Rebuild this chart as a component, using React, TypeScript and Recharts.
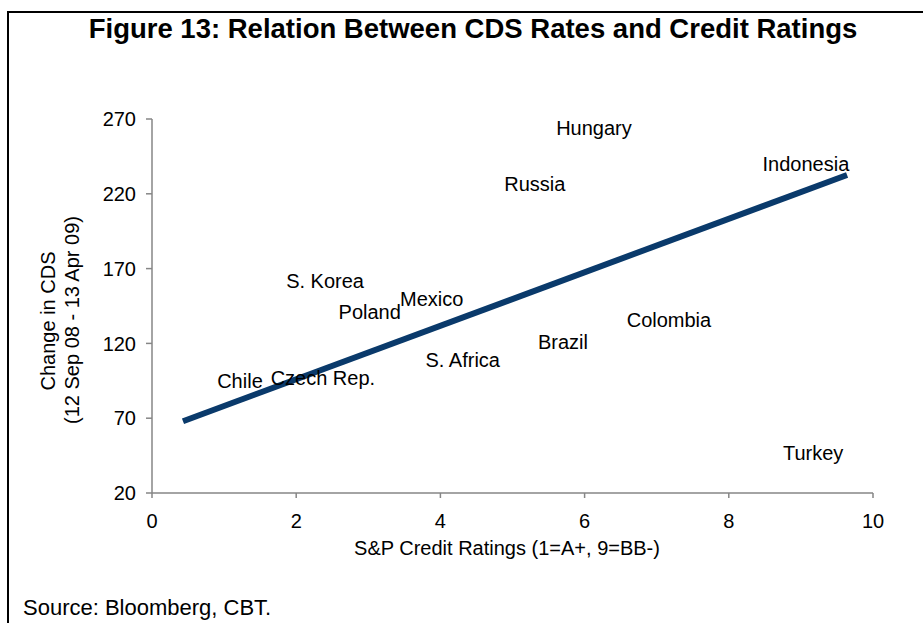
import { Scatter, ScatterChart, XAxis, YAxis } from "recharts"

const countries = [
  "Hungary",
  "Indonesia",
  "Russia",
  "S. Korea",
  "Mexico",
  "Poland",
  "Colombia",
  "Brazil",
  "S. Africa",
  "Chile",
  "Czech Rep.",
  "Turkey",
]
const ratings = [6.13, 9.07, 5.31, 2.4, 3.88, 3.02, 7.17, 5.7, 4.31, 1.22, 2.37, 9.17]
const cdsChange = [264, 240, 227, 162, 150, 141, 136, 121, 109, 95, 97, 47]

const trendX = [0.43, 9.64]
const trendY = [68, 232.6]

const xTicks = [0, 2, 4, 6, 8, 10]
const yTicks = [20, 70, 120, 170, 220, 270]

const points = countries.map((name, i) => ({ name, x: ratings[i], y: cdsChange[i] }))
const trend = trendX.map((x, i) => ({ x, y: trendY[i] }))

const FONT = "'Liberation Sans', Arial, sans-serif"

function CountryLabel(props: any) {
  const { cx, cy, payload } = props
  return (
    <text x={cx} y={cy} dy="0.36em" textAnchor="middle" fontSize={20} fill="#000">
      {payload.name}
    </text>
  )
}

export default function App() {
  return (
    <div
      style={{
        position: "absolute",
        left: 0,
        top: 0,
        width: 923,
        height: 623,
        background: "#fff",
        fontFamily: FONT,
      }}
    >
      <ScatterChart
        width={923}
        height={623}
        margin={{ top: 119, right: 50, bottom: 70, left: 0 }}
      >
        <XAxis
          type="number"
          dataKey="x"
          domain={[0, 10]}
          ticks={xTicks}
          interval={0}
          stroke="#868686"
          strokeWidth={1.5}
          tickSize={5}
          tickMargin={16}
          height={60}
          tick={{ fill: "#000", fontSize: 20 }}
        />
        <YAxis
          type="number"
          dataKey="y"
          domain={[20, 270]}
          ticks={yTicks}
          interval={0}
          stroke="#868686"
          strokeWidth={1.5}
          tickSize={6}
          tickMargin={10}
          width={152}
          tick={{ fill: "#000", fontSize: 20 }}
        />
        <Scatter
          data={trend}
          line={{ stroke: "#0a3a6b", strokeWidth: 6 }}
          shape={() => <g />}
          isAnimationActive={false}
        />
        <Scatter data={points} shape={CountryLabel} isAnimationActive={false} />
      </ScatterChart>
      <svg
        width={923}
        height={623}
        style={{ position: "absolute", left: 0, top: 0, pointerEvents: "none" }}
        fontFamily={FONT}
      >
        <line x1={8} y1={12} x2={923} y2={12} stroke="#000" strokeWidth={2} />
        <line x1={8} y1={11} x2={8} y2={623} stroke="#000" strokeWidth={2} />
        <text x={473} y={38} textAnchor="middle" fontSize={27.5} fontWeight="bold">
          Figure 13: Relation Between CDS Rates and Credit Ratings
        </text>
        <text
          transform="translate(48,321) rotate(-90)"
          textAnchor="middle"
          dy="0.36em"
          fontSize={20}
        >
          Change in CDS
        </text>
        <text
          transform="translate(72,320) rotate(-90)"
          textAnchor="middle"
          dy="0.36em"
          fontSize={20}
        >
          (12 Sep 08 - 13 Apr 09)
        </text>
        <text x={507} y={555} textAnchor="middle" fontSize={20}>
          S&amp;P Credit Ratings (1=A+, 9=BB-)
        </text>
        <text x={23} y={615} fontSize={22}>
          Source: Bloomberg, CBT.
        </text>
      </svg>
    </div>
  )
}
